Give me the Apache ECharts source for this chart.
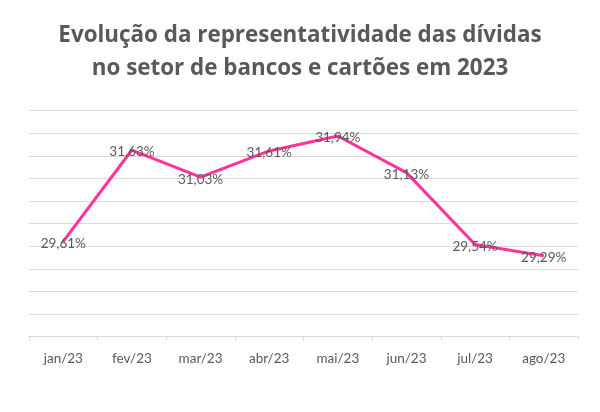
<!DOCTYPE html>
<html>
<head>
<meta charset="utf-8">
<script src="https://cdn.jsdelivr.net/npm/echarts@6/dist/echarts.min.js"></script>
<style>
html,body{margin:0;padding:0;background:#fff;}
#chart{width:600px;height:412px;}
</style>
</head>
<body>
<div id="chart"></div>
<script>
const titleText = "Evolução da representatividade das dívidas\nno setor de bancos e cartões em 2023";
const categories = ["jan/23","fev/23","mar/23","abr/23","mai/23","jun/23","jul/23","ago/23"];
const values = [29.61, 31.63, 31.03, 31.61, 31.94, 31.13, 29.54, 29.29];

const chart = echarts.init(document.getElementById('chart'), null, {renderer:'canvas'});
chart.setOption({
  animation: false,
  backgroundColor: '#ffffff',
  title: {
    text: titleText,
    left: 'center',
    top: 14,
    textStyle: {
      fontFamily: "'Open Sans'",
      fontWeight: 'bold',
      fontSize: 22.4,
      lineHeight: 33,
      color: '#595959'
    }
  },
  grid: { left: 29, right: 22, top: 110.7, bottom: 75.3 },
  xAxis: {
    type: 'category',
    data: categories,
    boundaryGap: true,
    axisLine: { lineStyle: { color: '#d9d9d9', width: 1 } },
    axisTick: { show: true, length: 4, lineStyle: { color: '#d9d9d9' } },
    axisLabel: { color: '#595959', fontFamily: 'Lato', fontSize: 13.5, margin: 15 }
  },
  yAxis: {
    type: 'value',
    min: 27.5,
    max: 32.5,
    interval: 0.5,
    axisLine: { show: false },
    axisTick: { show: false },
    axisLabel: { show: false },
    splitLine: { lineStyle: { color: '#d9d9d9', width: 1 } }
  },
  series: [{
    type: 'line',
    data: values,
    symbol: 'circle',
    symbolSize: 1,
    itemStyle: { color: '#ff3399' },
    lineStyle: { color: '#ff3399', width: 3 },
    label: {
      show: true,
      position: 'inside',
      offset: [0, 2],
      color: '#595959',
      fontFamily: 'Lato',
      fontSize: 13.5,
      formatter: p => p.value.toFixed(2).replace('.', ',') + '%'
    }
  }]
});
</script>
</body>
</html>
